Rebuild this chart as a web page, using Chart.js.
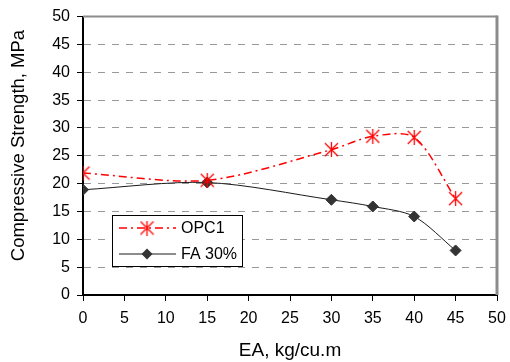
<!DOCTYPE html>
<html>
<head>
<meta charset="utf-8">
<script src="https://cdn.jsdelivr.net/npm/chart.js@4.4.0/dist/chart.umd.min.js"></script>
<style>
  html, body { margin: 0; padding: 0; background: #fff; }
  #wrap { width: 510px; height: 362px; }
</style>
</head>
<body>
<div id="wrap"><canvas id="chart" width="510" height="362"></canvas></div>
<script>
// 데이터
var eaDose = [0, 15, 30, 35, 40, 45];
var opc1 = [21.9, 20.6, 26.1, 28.5, 28.3, 17.3];
var fa30 = [18.9, 20.2, 17.1, 15.9, 14.1, 8.0];
var seriesNames = ["OPC1", "FA 30%"];

var FONT = "'Liberation Sans', Arial, sans-serif";

// 별표 마커 (X + 세로선)
function makeAsterisk(size, color) {
    var c = document.createElement("canvas");
    c.width = size; c.height = size;
    var g = c.getContext("2d");
    g.strokeStyle = color;
    g.lineWidth = 1.3;
    g.beginPath();
    g.moveTo(1, 1); g.lineTo(size - 1, size - 1);
    g.moveTo(size - 1, 1); g.lineTo(1, size - 1);
    g.moveTo(size / 2, 0); g.lineTo(size / 2, size);
    g.stroke();
    return c;
}
var asterisk = makeAsterisk(15, "#ff0000");

function toPoints(xs, ys) {
    var out = [];
    for (var i = 0; i < xs.length; i++) out.push({x: xs[i], y: ys[i]});
    return out;
}

// 테두리 + 범례 플러그인
var framePlugin = {
    id: "frame",
    afterDraw: function(chart) {
        var ctx = chart.ctx, a = chart.chartArea;
        ctx.save();
        ctx.strokeStyle = "#8c8c8c";
        ctx.lineWidth = 2;
        ctx.beginPath();
        ctx.moveTo(a.left, a.top); ctx.lineTo(a.right, a.top);
        ctx.stroke();
        ctx.lineWidth = 3;
        ctx.beginPath();
        ctx.moveTo(a.right, a.top - 1); ctx.lineTo(a.right, a.bottom);
        ctx.stroke();

        // 범례
        var bx = 112, by = 215, bw = 130, bh = 51;
        ctx.fillStyle = "#fff";
        ctx.fillRect(bx, by, bw, bh);
        ctx.strokeStyle = "#000";
        ctx.lineWidth = 1;
        ctx.strokeRect(bx + 0.5, by + 0.5, bw, bh);
        var rows = [228, 254];
        chart.data.datasets.forEach(function(ds, i) {
            var y = rows[i];
            ctx.strokeStyle = ds.borderColor;
            ctx.lineWidth = ds.borderWidth;
            ctx.setLineDash(ds.borderDash || []);
            ctx.beginPath();
            ctx.moveTo(119, y); ctx.lineTo(176, y);
            ctx.stroke();
            ctx.setLineDash([]);
            if (ds.pointStyle === "rectRot") {
                ctx.fillStyle = ds.pointBackgroundColor;
                ctx.beginPath();
                ctx.moveTo(147, y - 5.5); ctx.lineTo(152.5, y);
                ctx.lineTo(147, y + 5.5); ctx.lineTo(141.5, y);
                ctx.closePath();
                ctx.fill();
            } else {
                ctx.drawImage(ds.pointStyle, 147 - 7.5, y - 7.5);
            }
            ctx.fillStyle = "#000";
            ctx.font = "16px " + FONT;
            ctx.textBaseline = "middle";
            ctx.fillText(ds.label, 181, y + 1);
        });
        ctx.restore();
    }
};

var ctx = document.getElementById("chart").getContext("2d");
new Chart(ctx, {
    type: "line",
    data: {
        datasets: [{
            label: seriesNames[0],
            data: toPoints(eaDose, opc1),
            borderColor: "#ff0000",
            borderWidth: 1.5,
            borderDash: [8, 4, 2, 4],
            pointStyle: asterisk,
            pointBackgroundColor: "#ff0000",
            tension: 0.3,
            fill: false
        }, {
            label: seriesNames[1],
            data: toPoints(eaDose, fa30),
            borderColor: "#1a1a1a",
            borderWidth: 1,
            pointStyle: "rectRot",
            pointRadius: 5.5,
            pointBackgroundColor: "#333333",
            pointBorderColor: "#333333",
            pointBorderWidth: 1,
            tension: 0.3,
            fill: false
        }]
    },
    options: {
        responsive: false,
        animation: false,
        devicePixelRatio: 1,
        layout: { padding: { left: 0, top: 14, right: 13, bottom: 0 } },
        plugins: { legend: { display: false }, tooltip: { enabled: false } },
        scales: {
            x: {
                type: "linear",
                min: 0, max: 50,
                ticks: { stepSize: 5, color: "#000", padding: 8,
                         font: { family: FONT, size: 16 } },
                grid: { drawOnChartArea: false, drawTicks: true, tickLength: 6, tickColor: "#000" },
                border: { color: "#000", width: 2 },
                title: { display: true, text: "EA, kg/cu.m", color: "#000", padding: { top: 4, bottom: 0 },
                         font: { family: FONT, size: 19 } },
                afterFit: function(s) { s.height = 67; s.paddingRight = 0; s.paddingLeft = 0; }
            },
            y: {
                min: 0, max: 50,
                ticks: { stepSize: 5, color: "#000", padding: 7,
                         font: { family: FONT, size: 16 } },
                grid: {
                    color: function(c) {
                        var v = c.tick && c.tick.value;
                        return (v === 0 || v === 50) ? "rgba(0,0,0,0)" : "#999";
                    },
                    lineWidth: 1,
                    tickLength: 6,
                    tickColor: "#000"
                },
                border: { color: "#000", width: 2, dash: [7, 7] },
                title: { display: true, text: "    Compressive Strength, MPa", color: "#000",
                         padding: { top: 8, bottom: 0 },
                         font: { family: FONT, size: 18.5 } },
                afterFit: function(s) { s.width = 83; }
            }
        }
    },
    plugins: [framePlugin]
});
</script>
</body>
</html>
